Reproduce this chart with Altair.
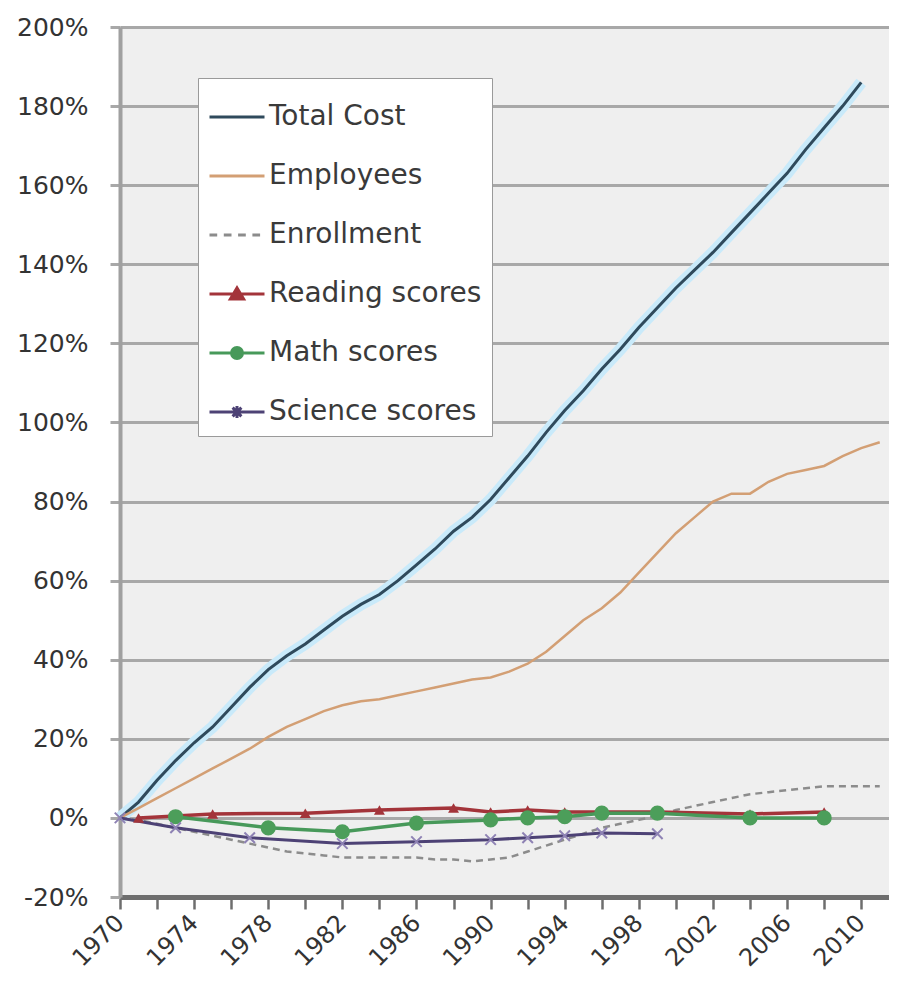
import altair as alt
import pandas as pd

series_names = ["Total Cost", "Employees", "Enrollment",
                "Reading scores", "Math scores", "Science scores"]

cost_years = list(range(1970, 2011))
cost_values = [0, 4, 9.5, 14.5, 19, 23, 28, 33, 37.5, 41, 44, 47.5, 51, 54, 56.5,
               60, 64, 68, 72.5, 76, 80.5, 86, 91.5, 97.5, 103, 108, 113.5, 118.5,
               124, 129, 134, 138.5, 143, 148, 153, 158, 163, 169, 174.5, 180, 186]

emp_years = list(range(1970, 2012))
emp_values = [0, 2.5, 5, 7.5, 10, 12.5, 15, 17.5, 20.5, 23, 25, 27, 28.5, 29.5, 30,
              31, 32, 33, 34, 35, 35.5, 37, 39, 42, 46, 50, 53, 57, 62, 67, 72, 76,
              80, 82, 82, 85, 87, 88, 89, 91.5, 93.5, 95]

enr_years = list(range(1970, 2012))
enr_values = [0, -0.5, -1.5, -2.5, -3.5, -4.5, -5.5, -6.5, -7.5, -8.5, -9, -9.5, -10,
              -10, -10, -10, -10, -10.5, -10.5, -11, -10.5, -10, -8.5, -7, -5.5, -4,
              -2.5, -1.5, -0.5, 0.5, 2, 3, 4, 5, 6, 6.5, 7, 7.5, 8, 8, 8, 8]

reading_years = [1971, 1975, 1980, 1984, 1988, 1990, 1992, 1994, 1996, 1999, 2004, 2008]
reading_values = [0, 1, 1.2, 2, 2.5, 1.5, 2, 1.5, 1.5, 1.5, 1, 1.5]

math_years = [1973, 1978, 1982, 1986, 1990, 1992, 1994, 1996, 1999, 2004, 2008]
math_values = [0.3, -2.5, -3.5, -1.3, -0.5, 0, 0.3, 1.2, 1.2, 0, 0]

science_years = [1970, 1973, 1977, 1982, 1986, 1990, 1992, 1994, 1996, 1999]
science_values = [0, -2.5, -5, -6.5, -6, -5.5, -5, -4.5, -3.8, -4]

y_ticks = list(range(-20, 201, 20))
x_ticks = list(range(1970, 2012, 2))

rows = []
for name, yrs, vals in [
    ("Total Cost", cost_years, cost_values),
    ("Employees", emp_years, emp_values),
    ("Enrollment", enr_years, enr_values),
    ("Reading scores", reading_years, reading_values),
    ("Math scores", math_years, math_values),
    ("Science scores", science_years, science_values),
]:
    for yr, v in zip(yrs, vals):
        rows.append({"series": name, "year": yr, "pct": v})
df = pd.DataFrame(rows)

line_colors = ["#2f4a5c", "#d39f74", "#8c8c8c", "#a3343a", "#47995a", "#4d4275"]

legend_paths = [
    "M-1,0H1",
    "M-1,0H1",
    "M-1,0H-0.72M-0.48,0H-0.2M0.04,0H0.32M0.56,0H0.84",
    "M-1,0H1M-0.24,0.18L0,-0.22L0.24,0.18Z",
    "M-1,0H1M0.2,0A0.2,0.2 0 1,1 -0.2,0A0.2,0.2 0 1,1 0.2,0Z",
    "M-1,0H1M-0.16,-0.16L0.16,0.16M-0.16,0.16L0.16,-0.16M0,-0.22V0.22",
]

x_axis = alt.Axis(
    values=x_ticks, format="d",
    labelExpr="(datum.value - 1970) % 4 == 0 ? datum.label : ''",
    labelAngle=-45, labelAlign="right", labelBaseline="middle",
    labelFont="DejaVu Sans", labelFontSize=24, labelColor="#333333",
    labelPadding=10, labelFlush=False, labelOverlap=False,
    tickSize=12, tickColor="#6e6e6e", tickWidth=2.5,
    domainColor="#6e6e6e", domainWidth=5, grid=False, title=None,
)
y_axis = alt.Axis(
    values=y_ticks, labelExpr="datum.value + '%'",
    labelFont="DejaVu Sans", labelFontSize=25, labelColor="#333333",
    labelPadding=22, labelFlush=False, labelOverlap=False,
    tickSize=10, tickColor="#a8a8a8", tickWidth=3,
    domainColor="#a0a0a0", domainWidth=4,
    grid=True, gridColor="#a8a8a8", gridWidth=3, title=None,
)

x_enc = alt.X("year:Q", scale=alt.Scale(domain=[1970, 2011.5], nice=False, zero=False), axis=x_axis)
y_enc = alt.Y("pct:Q", scale=alt.Scale(domain=[-20, 200], nice=False, zero=False), axis=y_axis)

base = alt.Chart(df).encode(x=x_enc, y=y_enc)


def series_line(name, **style):
    return base.transform_filter(alt.datum.series == name).mark_line(**style)


halo = series_line("Total Cost", color="#c9eafa", strokeWidth=12)
cost_line = series_line("Total Cost", color=line_colors[0], strokeWidth=3)
emp_line = series_line("Employees", color=line_colors[1], strokeWidth=2.5)
enr_line = series_line("Enrollment", color=line_colors[2], strokeWidth=2.5, strokeDash=[7, 5])
sci_line = series_line("Science scores", color=line_colors[5], strokeWidth=3)
read_line = series_line("Reading scores", color=line_colors[3], strokeWidth=3.5)
math_line = series_line("Math scores", color=line_colors[4], strokeWidth=3.5)

reading_pts = base.transform_filter(alt.datum.series == "Reading scores").mark_point(
    shape="triangle-up", filled=True, color="#a3343a", size=120, opacity=1)
math_pts = base.transform_filter(alt.datum.series == "Math scores").mark_point(
    shape="circle", filled=True, color="#4c9e5a", size=230, opacity=1)
sci_pts = base.transform_filter(alt.datum.series == "Science scores").mark_point(
    shape="M-1,-1L1,1M-1,1L1,-1", filled=False, color="#8e82b4", size=110,
    strokeWidth=2, opacity=1)

legend_df = pd.DataFrame({"series": series_names,
                          "year": [None] * len(series_names),
                          "pct": [None] * len(series_names)})


def make_legend():
    return alt.Legend(
        title=None, orient="none", legendX=78, legendY=51,
        fillColor="white", strokeColor="#9a9a9a", padding=10,
        labelFont="DejaVu Sans", labelFontSize=28, labelColor="#3a3a3a",
        labelOffset=3, labelLimit=400, rowPadding=16,
        symbolSize=3025, symbolStrokeWidth=3,
    )


carrier = alt.Chart(legend_df).mark_point(filled=True, opacity=1).encode(
    x=x_enc, y=y_enc,
    fill=alt.Fill("series:N", scale=alt.Scale(domain=series_names, range=line_colors), legend=make_legend()),
    stroke=alt.Stroke("series:N", scale=alt.Scale(domain=series_names, range=line_colors), legend=make_legend()),
    shape=alt.Shape("series:N", scale=alt.Scale(domain=series_names, range=legend_paths), legend=make_legend()),
)

chart = alt.layer(
    halo, cost_line, emp_line, enr_line, sci_line, read_line, math_line,
    reading_pts, math_pts, sci_pts, carrier,
).properties(
    width=769, height=870,
    autosize=alt.AutoSizeParams(type="none"),
    padding={"left": 112, "top": 19, "right": 0, "bottom": 78},
    background="white",
).configure_view(fill="#efefef", strokeWidth=0)

chart.save("out.html", embed_options={"renderer": "svg", "actions": False})
